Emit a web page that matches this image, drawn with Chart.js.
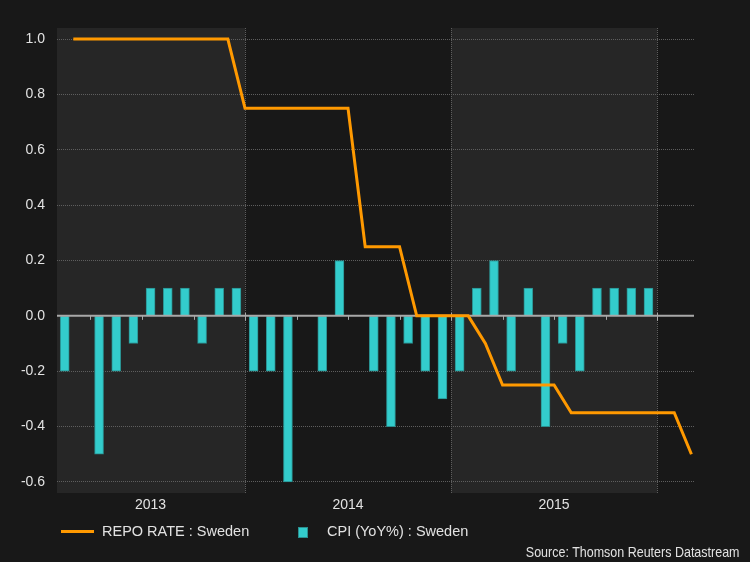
<!DOCTYPE html>
<html><head><meta charset="utf-8">
<script src="https://cdn.jsdelivr.net/npm/chart.js@4"></script>
<style>
html,body{margin:0;padding:0;background:#181818;}
#wrap{position:relative;width:750px;height:562px;overflow:hidden;font-family:"Liberation Sans",Arial,sans-serif;color:#e2e2e2;}
canvas{position:absolute;left:0;top:0;}
.lg{position:absolute;font-size:14.5px;line-height:16px;white-space:nowrap;}
</style></head><body>
<div id="wrap"><canvas id="c" width="750" height="562"></canvas>
<div style="position:absolute;left:61px;top:530px;width:33px;height:3px;background:#ff9900"></div>
<div class="lg" style="left:102px;top:523px">REPO RATE : Sweden</div>
<div style="position:absolute;left:298px;top:527px;width:8px;height:9px;background:#33cccc;border:1px solid #2a8f8f"></div>
<div class="lg" style="left:327px;top:523px">CPI (YoY%) : Sweden</div>
<div class="lg" style="right:10px;top:544px;font-size:15px;transform:scaleX(0.833);transform-origin:right center">Source: Thomson Reuters Datastream</div>
</div>
<script>
// ---- data ----
const months = ['2013-02','2013-03','2013-04','2013-05','2013-06','2013-07','2013-08','2013-09','2013-10','2013-11','2013-12',
  '2014-01','2014-02','2014-03','2014-04','2014-05','2014-06','2014-07','2014-08','2014-09','2014-10','2014-11','2014-12',
  '2015-01','2015-02','2015-03','2015-04','2015-05','2015-06','2015-07','2015-08','2015-09','2015-10','2015-11','2015-12',
  '2016-01','2016-02'];
const repoRate = [1.0,1.0,1.0,1.0,1.0,1.0,1.0,1.0,1.0,1.0,0.75,
  0.75,0.75,0.75,0.75,0.75,0.75,0.25,0.25,0.25,0,0,0,
  0,-0.1,-0.25,-0.25,-0.25,-0.25,-0.35,-0.35,-0.35,-0.35,-0.35,-0.35,
  -0.35,-0.5];
const cpiYoY = [-0.2,0,-0.5,-0.2,-0.1,0.1,0.1,0.1,-0.1,0.1,0.1,
  -0.2,-0.2,-0.6,0,-0.2,0.2,0,-0.2,-0.4,-0.1,-0.2,-0.3,
  -0.2,0.1,0.2,-0.2,0.1,-0.4,-0.1,-0.2,0.1,0.1,0.1,0.1,
  null,null];
const yearLabels = ['2013','2014','2015'];
const bandYears = [2013,2014,2015,2016];
const yTicks = [-0.6,-0.4,-0.2,0.0,0.2,0.4,0.6,0.8,1.0];
const seriesNames = ['REPO RATE : Sweden','CPI (YoY%) : Sweden'];

// month index: Jan 2013 start = 0
function mIdx(s){const [y,m]=s.split('-').map(Number);return (y-2013)*12+(m-1);}
const xMin = mIdx(months[0])+0.05;          // a day or two into Feb 2013
const xMax = mIdx(months[months.length-1])+1.15; // a few days into Mar 2016
const repoData = months.map((m,i)=>({x:mIdx(m)+1,y:repoRate[i]}));
const cpiData = months.map((m,i)=>({x:mIdx(m)+0.5,y:cpiYoY[i]}));
function yearCenter(yr){const s=Math.max((yr-2013)*12,mIdx(months[0])),e=Math.min((yr-2013)*12+12,xMax);return (s+e)/2;}

const deco = {
  id:'deco',
  beforeDraw(chart){
    const {ctx,chartArea:a,scales:{x}}=chart;
    ctx.save();
    ctx.fillStyle='#181818';ctx.fillRect(0,0,chart.width,chart.height);
    bandYears.forEach((yr,i)=>{
      if(i%2) return;
      const s=Math.max(x.getPixelForValue((yr-2013)*12),a.left);
      const e=Math.min(x.getPixelForValue((yr-2013)*12+12),a.right);
      ctx.fillStyle='#262626';ctx.fillRect(s,a.top,e-s,a.bottom-a.top);
    });
    ctx.restore();
  },
  beforeDatasetsDraw(chart){
    const {ctx,chartArea:a,scales:{x}}=chart;
    ctx.save();
    ctx.strokeStyle='#5e5e5e';ctx.lineWidth=1;ctx.setLineDash([1,1]);
    bandYears.forEach(yr=>{
      const v=(yr-2013)*12; if(v<=xMin||v>=xMax) return;
      const px=Math.round(x.getPixelForValue(v))+0.5;
      ctx.beginPath();ctx.moveTo(px,a.top);ctx.lineTo(px,a.bottom);ctx.stroke();
    });
    ctx.restore();
  },
  afterDatasetDraw(chart,args){
    if(args.index!==1) return;
    const {ctx,chartArea:a,scales:{x,y}}=chart;
    const y0=y.getPixelForValue(0);
    ctx.save();
    ctx.strokeStyle='#a8a8a8';ctx.lineWidth=2;
    ctx.beginPath();ctx.moveTo(a.left,y0);ctx.lineTo(a.right,y0);ctx.stroke();
    ctx.lineWidth=1;
    for(let v=Math.ceil(xMin/3)*3; v<xMax; v+=3){
      const px=Math.round(x.getPixelForValue(v))+0.5;
      const big = v%12===0;
      ctx.beginPath();ctx.moveTo(px,y0-(big?3:0));ctx.lineTo(px,y0+(big?5:4));ctx.stroke();
    }
    ctx.restore();
  }
};

const font={family:'"Liberation Sans", Arial, sans-serif',size:14};
new Chart(document.getElementById('c'),{
  data:{datasets:[
    {type:'line',label:seriesNames[0],data:repoData,borderColor:'#ff9900',borderWidth:3,pointRadius:0,tension:0,fill:false,order:1,borderJoinStyle:'miter'},
    {type:'bar',label:seriesNames[1],data:cpiData,backgroundColor:'#33cccc',borderColor:'#2a8f8f',borderWidth:1,barThickness:9,order:2}
  ]},
  options:{
    responsive:false,devicePixelRatio:1,animation:false,
    layout:{padding:{top:28,right:56,left:0,bottom:0}},
    plugins:{legend:{display:false},tooltip:{enabled:false}},
    scales:{
      x:{type:'linear',min:xMin,max:xMax,offset:false,
        grid:{display:false},border:{display:false},
        afterFit(s){s.height=69;},
        afterBuildTicks(s){s.ticks=yearLabels.map(l=>({value:yearCenter(+l),label:l}));},
        ticks:{color:'#e2e2e2',font,padding:-4,maxRotation:0,autoSkip:false,callback:(v,i)=>yearLabels[i]}
      },
      y:{type:'linear',min:-0.64,max:1.04,
        afterFit(s){s.width=57;},
        afterBuildTicks(s){s.ticks=yTicks.map(v=>({value:v}));},
        grid:{color:c=>(c.tick&&c.tick.value===0)?'rgba(0,0,0,0)':'#5e5e5e',drawTicks:false,lineWidth:1},
        border:{display:false,dash:[1,1]},
        ticks:{color:'#e2e2e2',font,padding:12,callback:v=>v.toFixed(1)}
      }
    }
  },
  plugins:[deco]
});
</script>
</body></html>
